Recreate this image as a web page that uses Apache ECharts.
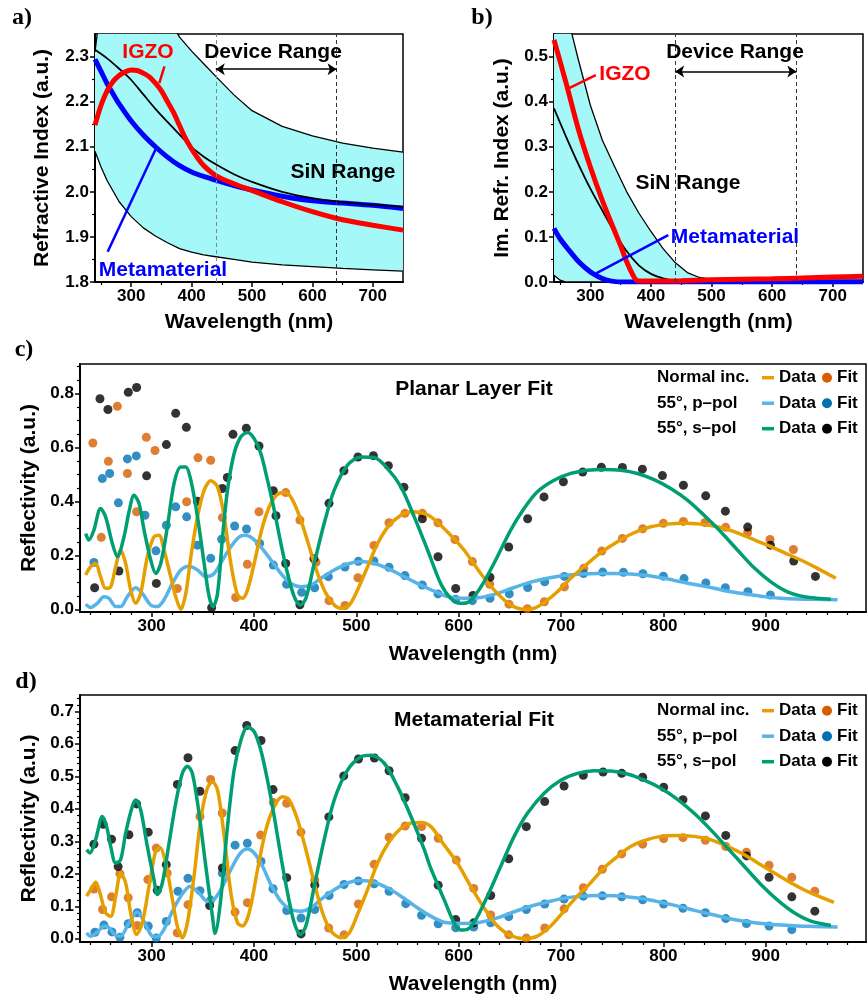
<!DOCTYPE html>
<html>
<head>
<meta charset="utf-8">
<script src="https://cdn.jsdelivr.net/npm/echarts@6/dist/echarts.min.js"></script>
<style>
html, body { margin: 0; padding: 0; background: #fff; }
#chart { width: 867px; height: 998px; }
</style>
</head>
<body>
<div id="chart"></div>
<script>
// ---------- panel a: real refractive index ----------
var aBandX    = [240, 250, 260, 280, 300, 320, 340, 360, 380, 400, 420, 440, 470, 500, 550, 600, 650, 700, 750];
var aBandLow  = [2.09, 2.055, 2.025, 1.978, 1.945, 1.92, 1.902, 1.887, 1.874, 1.866, 1.86, 1.856, 1.85, 1.844, 1.838, 1.834, 1.83, 1.827, 1.824];
var aBandHigh = [2.31, 2.42, 2.5, 2.55, 2.56, 2.52, 2.46, 2.39, 2.343, 2.312, 2.284, 2.256, 2.215, 2.18, 2.145, 2.124, 2.108, 2.097, 2.088];
var aSiNX  = [240, 260, 280, 300, 320, 340, 360, 380, 400, 420, 440, 470, 500, 550, 600, 650, 700, 750];
var aSiN   = [2.315, 2.296, 2.273, 2.248, 2.216, 2.184, 2.155, 2.127, 2.099, 2.078, 2.061, 2.039, 2.022, 2.0, 1.986, 1.977, 1.971, 1.967];
var aMetaX = [240, 250, 260, 270, 280, 300, 320, 340, 360, 380, 400, 420, 440, 470, 500, 550, 600, 650, 700, 750];
var aMeta  = [2.294, 2.267, 2.24, 2.217, 2.195, 2.157, 2.126, 2.1, 2.077, 2.058, 2.044, 2.034, 2.026, 2.014, 2.004, 1.99, 1.98, 1.975, 1.97, 1.963];
var aIgzoX = [240, 250, 260, 270, 280, 290, 300, 310, 320, 330, 340, 350, 360, 370, 380, 390, 400, 410, 420, 440, 470, 500, 550, 600, 650, 700, 750];
var aIgzo  = [2.148, 2.192, 2.224, 2.245, 2.258, 2.266, 2.27, 2.269, 2.263, 2.255, 2.241, 2.224, 2.2, 2.176, 2.147, 2.118, 2.095, 2.075, 2.058, 2.036, 2.018, 2.003, 1.978, 1.956, 1.938, 1.926, 1.915];

// ---------- panel b: imaginary refractive index ----------
var bBandX    = [240, 250, 260, 270, 280, 300, 320, 340, 360, 380, 400, 420, 440, 460, 480, 500, 550, 600, 650, 700, 750];
var bBandLow  = [0.015, 0.004, 0, 0, 0, 0, 0, 0, 0, 0, 0, 0, 0, 0, 0, 0, 0, 0, 0, 0, 0];
var bBandHigh = [0.76, 0.68, 0.61, 0.548, 0.494, 0.392, 0.314, 0.256, 0.2, 0.153, 0.112, 0.074, 0.043, 0.021, 0.01, 0.006, 0.004, 0.004, 0.004, 0.004, 0.004];
var bSiNX  = [240, 260, 280, 300, 320, 340, 360, 380, 400, 420, 440, 460, 480, 500];
var bSiN   = [0.385, 0.322, 0.262, 0.207, 0.158, 0.11, 0.068, 0.037, 0.018, 0.008, 0.003, 0.001, 0, 0];
var bMetaX = [240, 250, 265, 280, 293, 305, 320, 335, 354, 400, 500, 600, 750];
var bMeta  = [0.119, 0.096, 0.07, 0.046, 0.03, 0.018, 0.0075, 0.002, 0, 0, 0, 0, 0];
var bIgzoX = [240, 260, 280, 300, 320, 340, 350, 360, 370, 376, 385, 400, 450, 500, 550, 600, 650, 700, 750];
var bIgzo  = [0.537, 0.441, 0.34, 0.255, 0.18, 0.113, 0.08, 0.045, 0.016, 0.004, 0.002, 0.002, 0.003, 0.005, 0.006, 0.007, 0.009, 0.011, 0.013];

// ---------- panel c: planar layer fit ----------
var cNormalLine = [[235.5,0.127],[240.4,0.158],[245.3,0.170],[250.1,0.121],[255,0.078],[260,0.084],[264.9,0.158],[269.7,0.220],[274.6,0.170],[279.5,0.072],[284.4,0.022],[289.3,0.059],[295.8,0.195],[302.3,0.269],[307.2,0.275],[312.1,0.220],[318.6,0.121],[323.5,0.047],[328.5,0.0],[333.4,0.059],[338.3,0.195],[344.8,0.343],[351.3,0.442],[357.8,0.477],[364.4,0.454],[370.9,0.343],[377.4,0.170],[383.9,0.053],[388.8,0.041],[393.7,0.072],[400.2,0.170],[408.3,0.306],[416.5,0.393],[424.6,0.430],[431.1,0.433],[437.7,0.405],[445.8,0.331],[454,0.232],[462.1,0.133],[470.3,0.059],[478.4,0.016],[484.9,0.004],[493.1,0.016],[501.2,0.072],[511,0.158],[520.8,0.244],[532.2,0.312],[543.6,0.349],[553.4,0.362],[563.1,0.358],[572.9,0.343],[588.9,0.288],[605.2,0.220],[621.5,0.133],[637.8,0.059],[650.8,0.016],[663.9,0.0],[673.7,0.004],[683.4,0.025],[696.5,0.065],[709.5,0.115],[722.5,0.158],[738.8,0.210],[755.1,0.251],[771.4,0.284],[787.7,0.306],[804,0.316],[820.2,0.319],[836.5,0.316],[852.8,0.306],[869.1,0.288],[885.4,0.263],[901.7,0.238],[918,0.210],[934.3,0.183],[950.6,0.152],[968.5,0.115]];
var cPLine = [[235.5,0.019],[240.4,0.007],[246.9,0.022],[253.4,0.047],[258.3,0.041],[264.9,0.010],[269.7,0.010],[276.3,0.047],[284.4,0.080],[290.9,0.059],[299.1,0.016],[305.6,0.010],[312.1,0.035],[320.3,0.096],[328.5,0.146],[336.6,0.160],[344.8,0.146],[352.9,0.121],[361.1,0.133],[369.3,0.183],[377.4,0.232],[385.6,0.269],[392.1,0.275],[398.6,0.263],[406.7,0.232],[416.5,0.183],[426.3,0.133],[436,0.096],[445.8,0.084],[455.6,0.090],[465.4,0.115],[478.4,0.146],[491.4,0.168],[504.5,0.177],[517.5,0.170],[530.5,0.152],[543.6,0.127],[556.6,0.102],[569.6,0.078],[582.6,0.057],[588.9,0.047],[605.2,0.041],[621.5,0.044],[637.8,0.059],[654.1,0.081],[670.4,0.101],[686.7,0.115],[703,0.125],[719.3,0.131],[735.6,0.133],[751.9,0.133],[768.2,0.131],[784.5,0.125],[800.8,0.115],[817.1,0.102],[833.4,0.090],[849.7,0.078],[866,0.065],[882.2,0.056],[898.5,0.047],[914.8,0.041],[931.1,0.038],[947.4,0.037],[970.2,0.035]];
var cSLine = [[235.5,0.281],[238.7,0.257],[243.6,0.294],[250.1,0.374],[255,0.343],[261.6,0.244],[266.5,0.195],[273,0.269],[277.9,0.362],[282.8,0.423],[287.7,0.393],[292.6,0.294],[299.1,0.183],[304,0.133],[308.9,0.170],[315.4,0.306],[321.9,0.467],[328.5,0.528],[333.4,0.528],[338.3,0.479],[344.8,0.343],[351.3,0.170],[356.2,0.047],[360.1,0.010],[364.4,0.059],[369.3,0.269],[374.1,0.442],[380.6,0.578],[387.2,0.640],[393.7,0.656],[400.2,0.633],[406.7,0.578],[413.2,0.479],[419.8,0.368],[426.3,0.244],[432.8,0.133],[439.3,0.047],[445.2,0.016],[450.7,0.041],[458.9,0.170],[468.6,0.319],[478.4,0.442],[491.4,0.535],[504.5,0.565],[517.5,0.563],[530.5,0.522],[543.6,0.454],[556.6,0.343],[569.6,0.220],[582.4,0.096],[592.2,0.041],[601.3,0.022],[608.5,0.025],[615,0.047],[624.8,0.102],[637.8,0.195],[650.8,0.294],[663.9,0.374],[676.9,0.436],[693.2,0.479],[709.5,0.504],[725.8,0.516],[742.1,0.519],[758.4,0.516],[774.7,0.504],[791,0.481],[807.2,0.448],[823.5,0.405],[839.8,0.349],[856.1,0.288],[872.4,0.220],[888.7,0.154],[905,0.102],[921.3,0.065],[937.6,0.047],[953.9,0.040],[963.6,0.037]];
var cNormalFit = [[242.6,0.617],[250.8,0.267],[257.7,0.549],[266.5,0.753],[276.3,0.504],[285.3,0.362],[294.8,0.638],[303.3,0.589],[325.1,0.077],[334.2,0.399],[345.3,0.562],[357.7,0.553],[369.1,0.340],[382.1,0.044],[393.5,0.167],[404.9,0.362],[431,0.433],[444.9,0.331],[460.6,0.174],[473.3,0.032],[488.9,0.014],[501.6,0.117],[517.2,0.237],[531.9,0.321],[547.5,0.356],[564.5,0.356],[579.8,0.321],[596.4,0.259],[613.4,0.177],[630.3,0.093],[649.2,0.019],[667.1,0.002],[683.8,0.028],[703.3,0.083],[722.2,0.152],[739.8,0.216],[760,0.263],[779.8,0.299],[800,0.319],[819.6,0.326],[840.7,0.322],[860.9,0.304],[882.4,0.285],[904.2,0.259],[927.1,0.222]];
var cPFit = [[243.6,0.174],[251.8,0.485],[259,0.504],[267.5,0.395],[276.3,0.558],[285,0.569],[293.5,0.349],[304.2,0.217],[314.4,0.312],[323.5,0.380],[334.2,0.343],[344.7,0.238],[357.7,0.189],[368.4,0.260],[381.1,0.309],[392.7,0.298],[405.5,0.244],[418.9,0.164],[431.9,0.093],[446.6,0.063],[459.3,0.080],[472.7,0.121],[488.9,0.157],[502,0.178],[517.2,0.179],[531.9,0.156],[547.5,0.125],[564.5,0.090],[579.8,0.057],[597.1,0.037],[613.4,0.032],[630.6,0.041],[649.5,0.057],[667.4,0.081],[684,0.102],[703.3,0.122],[722,0.133],[740.7,0.138],[761,0.137],[780,0.132],[800,0.123],[820.2,0.114],[841.5,0.098],[860.6,0.080],[882.6,0.065],[904.6,0.053]];
var cSFit = [[244.3,0.080],[249.5,0.781],[257.3,0.741],[268,0.142],[277.2,0.805],[285.3,0.823],[295.1,0.495],[304.6,0.096],[314.4,0.611],[323.5,0.727],[333.9,0.675],[344.7,0.401],[358.6,0.006],[369.1,0.448],[374,0.489],[379.5,0.649],[392.5,0.672],[404.9,0.606],[418.9,0.440],[421.5,0.347],[431,0.170],[444.9,0.017],[458.6,0.188],[473.3,0.393],[487.9,0.514],[501.6,0.565],[516.7,0.570],[531.3,0.533],[546.5,0.453],[564.5,0.336],[579.8,0.195],[597.1,0.077],[614,0.051],[630.6,0.119],[648.9,0.231],[667.4,0.336],[683.4,0.417],[702.3,0.473],[721.2,0.509],[739.4,0.527],[760,0.526],[779.5,0.520],[799.1,0.496],[819.6,0.460],[841.4,0.421],[860.6,0.364],[882.4,0.305],[904.6,0.238],[927.4,0.179],[948.6,0.122]];

// ---------- panel d: metamaterial fit ----------
var dNormalLine = [[236.5,0.131],[240.4,0.151],[245.3,0.174],[249.5,0.141],[255,0.080],[260,0.069],[264.9,0.131],[269.7,0.202],[274.6,0.172],[279.5,0.080],[285.3,0.013],[290.9,0.049],[297.4,0.161],[303.9,0.269],[308.2,0.281],[313.7,0.233],[320.3,0.121],[325.1,0.039],[330,0.003],[334.9,0.049],[341.4,0.192],[347.9,0.366],[354.4,0.463],[359.4,0.483],[364.4,0.458],[370.9,0.315],[377.4,0.141],[383.9,0.049],[388.8,0.039],[395.3,0.080],[403.5,0.213],[411.6,0.335],[419.8,0.407],[427.9,0.437],[434.4,0.427],[442.6,0.366],[450.7,0.274],[458.9,0.172],[467,0.080],[475.2,0.024],[484.9,0.003],[493.1,0.018],[501.2,0.075],[511,0.151],[520.8,0.233],[532.2,0.299],[543.6,0.340],[553.4,0.356],[563.1,0.358],[572.9,0.345],[585.7,0.289],[598.7,0.233],[611.8,0.161],[624.8,0.095],[637.8,0.039],[650.8,0.010],[663.9,0.0],[676.9,0.008],[689.9,0.039],[702.9,0.085],[715.9,0.131],[728.9,0.172],[742,0.218],[755,0.253],[768,0.284],[781.1,0.302],[797.4,0.315],[813.6,0.318],[829.9,0.315],[846.2,0.305],[862.5,0.284],[878.8,0.259],[895.1,0.228],[911.4,0.197],[927.6,0.167],[943.9,0.141],[966.7,0.112]];
var dPLine = [[236.5,0.018],[240.4,0.008],[246.9,0.020],[253.4,0.039],[258.3,0.034],[264.9,0.010],[269.7,0.008],[277.8,0.049],[285.9,0.082],[292.4,0.054],[300.5,0.008],[305.6,0.006],[312.1,0.029],[320.3,0.085],[328.5,0.131],[337.3,0.161],[346.3,0.141],[354.4,0.115],[361.1,0.121],[369.3,0.161],[377.4,0.213],[385.6,0.259],[393,0.276],[400.2,0.264],[408.3,0.223],[416.5,0.167],[426.3,0.115],[436,0.090],[445.8,0.085],[455.6,0.095],[465.4,0.121],[478.4,0.151],[491.4,0.172],[504.5,0.179],[517.5,0.174],[530.5,0.156],[543.6,0.131],[556.6,0.102],[569.6,0.075],[582.6,0.054],[588.9,0.049],[605.2,0.047],[621.5,0.051],[637.8,0.064],[654.1,0.083],[670.4,0.100],[686.7,0.113],[703,0.125],[719.3,0.131],[735.6,0.133],[751.9,0.132],[768.2,0.128],[784.5,0.121],[800.8,0.110],[817.1,0.098],[833.4,0.085],[849.7,0.073],[866,0.061],[882.2,0.052],[898.5,0.046],[914.8,0.042],[931.1,0.039],[947.4,0.038],[970.2,0.036]];
var dSLine = [[236.5,0.274],[239.7,0.264],[245.3,0.305],[251.8,0.376],[256,0.345],[260,0.284],[264.9,0.233],[269.7,0.243],[274.6,0.325],[281.1,0.407],[284.4,0.427],[289.3,0.396],[295.8,0.284],[302.3,0.182],[305.6,0.136],[310.5,0.172],[317,0.294],[323.5,0.417],[330,0.509],[334.9,0.531],[339.8,0.509],[346.3,0.386],[352.9,0.223],[359.4,0.069],[362,0.016],[367.5,0.121],[374.1,0.345],[380.6,0.519],[387.2,0.611],[393.7,0.652],[400.2,0.637],[406.7,0.580],[413.2,0.488],[419.8,0.376],[426.3,0.253],[432.8,0.141],[439.3,0.049],[445.2,0.013],[450.7,0.039],[458.9,0.161],[468.6,0.305],[478.4,0.427],[491.4,0.519],[504.5,0.560],[514.3,0.565],[527.3,0.540],[540.3,0.468],[553.4,0.376],[566.4,0.274],[572.6,0.218],[585.7,0.121],[595.5,0.049],[602,0.027],[608.5,0.029],[616.7,0.059],[628.1,0.131],[641.1,0.223],[654.2,0.315],[667.2,0.386],[683.5,0.448],[699.8,0.488],[716.1,0.509],[732.4,0.517],[748.7,0.516],[765,0.507],[781.3,0.488],[797.5,0.463],[813.8,0.429],[830.1,0.386],[846.4,0.335],[862.7,0.279],[879,0.223],[895.3,0.167],[911.6,0.119],[927.9,0.080],[944.2,0.054],[963.7,0.041]];
var dNormalFit = [[243.6,0.153],[252.1,0.090],[260.8,0.129],[269,0.200],[277.1,0.126],[285.9,0.041],[296.3,0.182],[304.5,0.279],[315.2,0.202],[325,0.018],[335.5,0.105],[347.2,0.376],[357.6,0.490],[369,0.387],[381.5,0.082],[393.5,0.111],[406.5,0.319],[418.9,0.419],[431.9,0.417],[445.9,0.328],[459.4,0.181],[473,0.033],[488,0.012],[502,0.107],[517.4,0.229],[532,0.312],[547.7,0.347],[563.7,0.345],[580,0.309],[597.7,0.242],[614.7,0.155],[631.3,0.073],[648.9,0.012],[666.1,0.002],[684.1,0.033],[703,0.092],[721.8,0.157],[740.4,0.214],[759.3,0.261],[779.8,0.291],[800.3,0.308],[819.2,0.311],[841.1,0.303],[861,0.284],[881.2,0.266],[903.3,0.226],[925.5,0.189],[948,0.146]];
var dPFit = [[244.6,0.020],[253.4,0.042],[261.2,0.021],[269,0.005],[277.1,0.046],[285.9,0.080],[296.7,0.039],[304.5,0.002],[314.3,0.053],[325.7,0.146],[335.5,0.186],[347.2,0.148],[357.6,0.119],[369,0.202],[381.5,0.288],[393.5,0.294],[406.9,0.238],[418.6,0.154],[432,0.087],[446,0.064],[459.4,0.090],[473.4,0.133],[488,0.167],[502,0.178],[517.4,0.169],[532,0.146],[548.3,0.108],[563.7,0.072],[580,0.046],[597.1,0.034],[614.7,0.036],[631.3,0.049],[648.9,0.068],[666.1,0.090],[684.1,0.107],[703,0.122],[721.8,0.131],[740.4,0.132],[759.3,0.129],[779.8,0.120],[800.3,0.107],[819.2,0.094],[841.1,0.080],[861,0.062],[881.2,0.047],[903.3,0.039],[925.5,0.028]];
var dSFit = [[243.6,0.291],[252.7,0.352],[260.8,0.306],[267.3,0.222],[277.8,0.320],[285.3,0.415],[296.7,0.328],[305.5,0.149],[314.3,0.228],[325.1,0.475],[335.5,0.557],[347.2,0.454],[356.7,0.102],[369.1,0.218],[381.5,0.579],[392.9,0.656],[406.9,0.610],[418.6,0.459],[432,0.188],[446,0.015],[459.4,0.165],[473.1,0.375],[487.7,0.501],[502.1,0.553],[517.7,0.556],[532,0.517],[547.7,0.434],[563.7,0.309],[580,0.165],[597.1,0.059],[614.7,0.049],[631.3,0.133],[648.9,0.246],[666.1,0.345],[684.1,0.422],[703,0.470],[721.8,0.503],[741.1,0.513],[759.3,0.509],[779.8,0.497],[800.3,0.466],[819.2,0.428],[841.1,0.378],[861,0.318],[881.2,0.255],[903.3,0.189],[925.5,0.129],[948,0.085]];

// ---------- tick labels ----------
var abXTicks = [300, 400, 500, 600, 700];
var aYTicks = [1.8, 1.9, 2.0, 2.1, 2.2, 2.3];
var bYTicks = [0, 0.1, 0.2, 0.3, 0.4, 0.5];
var cdXTicks = [300, 400, 500, 600, 700, 800, 900];
var cYTicks = [0, 0.2, 0.4, 0.6, 0.8];
var dYTicks = [0, 0.1, 0.2, 0.3, 0.4, 0.5, 0.6, 0.7];
var legendLabels = ['Normal inc.', '55°, p\u2013pol', '55°, s\u2013pol'];

var FONT = '"Liberation Sans", Arial, sans-serif';
var LINE_COLORS = ['#E69F00', '#56B4E9', '#009E73'];
var DOT_COLORS = ['#D55E00', '#0072B2', '#000000'];
var CYAN = '#a5f8f8';

function steps(from, to, step, skip) {
    var out = [];
    for (var i = 0; from + i * step <= to + 1e-9; i++) {
        var v = +(from + i * step).toFixed(4);
        if (skip.indexOf(v) < 0) out.push(v);
    }
    return out;
}

function mainAxis(dim, gi, min, max, ticks, name, gap, dec) {
    return {
        type: 'value', gridIndex: gi, min: min, max: max,
        position: dim === 'x' ? 'bottom' : 'left',
        name: name, nameLocation: 'middle', nameGap: gap,
        nameTextStyle: { fontFamily: FONT, fontWeight: 'bold', fontSize: 21, color: '#000' },
        axisLine: { onZero: false, lineStyle: { color: '#000', width: 2 } },
        axisTick: { customValues: ticks, length: 5, lineStyle: { color: '#000', width: 1.5 } },
        axisLabel: {
            customValues: ticks, fontFamily: FONT, fontWeight: 'bold', fontSize: 17,
            color: '#000', margin: 6,
            formatter: function (v) { return dec ? (+v).toFixed(dec) : String(Math.round(v)); }
        },
        splitLine: { show: false }
    };
}
function minorAxis(dim, gi, min, max, ticks) {
    return {
        type: 'value', gridIndex: gi, min: min, max: max,
        position: dim === 'x' ? 'bottom' : 'left',
        axisLine: { show: false, onZero: false },
        axisTick: { customValues: ticks, length: 3, lineStyle: { color: '#000', width: 1.2 } },
        axisLabel: { show: false },
        splitLine: { show: false }
    };
}

function zip(xs, ys) { return xs.map(function (x, i) { return [x, ys[i]]; }); }

function plainLine(ai, data, color, width, smooth) {
    return {
        type: 'line', xAxisIndex: ai, yAxisIndex: ai, data: data,
        showSymbol: false, smooth: smooth === undefined ? 0.3 : smooth, silent: true,
        lineStyle: { color: color, width: width }
    };
}
// filled range between two boundary curves, clipped to the grid
function band(ai, xs, low, high) {
    return {
        type: 'custom', xAxisIndex: ai, yAxisIndex: ai, silent: true, z: 1,
        data: xs.map(function (x, i) { return [x, low[i], high[i]]; }),
        encode: { x: 0, y: [1, 2] },
        renderItem: function (params, api) {
            if (params.dataIndex !== 0) return null;
            var pts = [], i;
            for (i = 0; i < xs.length; i++) pts.push(api.coord([xs[i], high[i]]));
            for (i = xs.length - 1; i >= 0; i--) pts.push(api.coord([xs[i], low[i]]));
            var cs = params.coordSys;
            return {
                type: 'polygon', shape: { points: pts },
                style: { fill: CYAN, stroke: null },
                clipPath: { type: 'rect', shape: { x: cs.x, y: cs.y, width: cs.width, height: cs.height } }
            };
        }
    };
}
function guides(yArrow, redSeg, blueSeg, leftColor) {
    return {
        silent: true, symbol: ['none', 'none'], symbolSize: 9,
        label: { show: false },
        data: [
            { xAxis: 440, lineStyle: { type: [4, 3], color: leftColor, width: 1 } },
            { xAxis: 640, lineStyle: { type: [4, 3], color: '#333', width: 1 } },
            [{ coord: [440, yArrow], symbol: 'arrow' }, { coord: [640, yArrow], symbol: 'arrow', lineStyle: { color: '#000', width: 1.5, type: 'solid' } }],
            [{ coord: redSeg[0] }, { coord: redSeg[1], lineStyle: { color: '#ff0000', width: 2.5, type: 'solid' } }],
            [{ coord: blueSeg[0] }, { coord: blueSeg[1], lineStyle: { color: '#0000ff', width: 2.5, type: 'solid' } }]
        ]
    };
}
function fitSeries(ai, lines, dots) {
    var out = [];
    [1, 0, 2].forEach(function (k) {
        out.push({
            type: 'line', xAxisIndex: ai, yAxisIndex: ai, data: lines[k],
            showSymbol: false, smooth: 0.3, silent: true,
            lineStyle: { color: LINE_COLORS[k], width: 3.5 }
        });
    });
    [0, 1, 2].forEach(function (k) {
        out.push({
            type: 'scatter', xAxisIndex: ai, yAxisIndex: ai, data: dots[k],
            symbolSize: 9, silent: true, itemStyle: { color: DOT_COLORS[k] }
        });
    });
    return out;
}

function txt(x, y, s, color, size, family) {
    return {
        type: 'text', x: x, y: y, silent: true, z: 100,
        style: {
            text: s, fill: color || '#000',
            font: 'bold ' + (size || 21) + 'px ' + (family || FONT),
            align: 'center', verticalAlign: 'middle',
            textAlign: 'center', textVerticalAlign: 'middle'
        }
    };
}
function legendBlock(y0, step) {
    var els = [];
    legendLabels.forEach(function (lab, k) {
        var y = y0 + k * step;
        els.push({ type: 'text', x: 657, y: y, silent: true, z: 100,
            style: { text: lab, fill: '#000', font: 'bold 17px ' + FONT,
                align: 'left', verticalAlign: 'middle', textAlign: 'left', textVerticalAlign: 'middle' } });
        els.push({ type: 'line', silent: true, z: 100, shape: { x1: 762, y1: y, x2: 774, y2: y },
            style: { stroke: LINE_COLORS[k], lineWidth: 3.5 } });
        els.push({ type: 'text', x: 779, y: y, silent: true, z: 100,
            style: { text: 'Data', fill: '#000', font: 'bold 17px ' + FONT,
                align: 'left', verticalAlign: 'middle', textAlign: 'left', textVerticalAlign: 'middle' } });
        els.push({ type: 'circle', silent: true, z: 100, shape: { cx: 827, cy: y, r: 5 },
            style: { fill: DOT_COLORS[k] } });
        els.push({ type: 'text', x: 837, y: y, silent: true, z: 100,
            style: { text: 'Fit', fill: '#000', font: 'bold 17px ' + FONT,
                align: 'left', verticalAlign: 'middle', textAlign: 'left', textVerticalAlign: 'middle' } });
    });
    return els;
}

var gridBox = { show: true, borderColor: '#000', borderWidth: 1.5, backgroundColor: 'transparent' };
var grids = [
    Object.assign({ left: 95, top: 34, width: 308, height: 248 }, gridBox),
    Object.assign({ left: 554, top: 34, width: 309, height: 248 }, gridBox),
    Object.assign({ left: 80, top: 364, width: 786, height: 248 }, gridBox),
    Object.assign({ left: 80, top: 695, width: 786, height: 247 }, gridBox)
];

var abXMinor = [250, 350, 450, 550, 650];
var cdXMinor = steps(240, 980, 20, cdXTicks);

var xAxes = [
    mainAxis('x', 0, 240, 750, abXTicks, 'Wavelength (nm)', 30, 0),
    minorAxis('x', 0, 240, 750, abXMinor),
    mainAxis('x', 1, 240, 750, abXTicks, 'Wavelength (nm)', 30, 0),
    minorAxis('x', 1, 240, 750, abXMinor),
    mainAxis('x', 2, 230, 998, cdXTicks, 'Wavelength (nm)', 32, 0),
    minorAxis('x', 2, 230, 998, cdXMinor),
    mainAxis('x', 3, 230, 998, cdXTicks, 'Wavelength (nm)', 32, 0),
    minorAxis('x', 3, 230, 998, cdXMinor)
];
// grid g draws its series on axis 2g; axis 2g+1 only carries minor ticks
var yAxes = [
    mainAxis('y', 0, 1.8, 2.35, aYTicks, 'Refractive Index (a.u.)', 42, 1),
    minorAxis('y', 0, 1.8, 2.35, [1.85, 1.95, 2.05, 2.15, 2.25]),
    mainAxis('y', 1, 0, 0.55, bYTicks, 'Im. Refr. Index (a.u.)', 41, 1),
    minorAxis('y', 1, 0, 0.55, [0.05, 0.15, 0.25, 0.35, 0.45]),
    mainAxis('y', 2, -0.01, 0.91, cYTicks, 'Reflectivity (a.u.)', 36, 1),
    minorAxis('y', 2, -0.01, 0.91, steps(0.05, 0.9, 0.05, [0.2, 0.4, 0.6, 0.8])),
    mainAxis('y', 3, -0.01, 0.75, dYTicks, 'Reflectivity (a.u.)', 36, 1),
    minorAxis('y', 3, -0.01, 0.75, steps(0.02, 0.74, 0.02, [0.1, 0.2, 0.3, 0.4, 0.5, 0.6, 0.7]))
];

var series = [];
// panel a
series.push(band(0, aBandX, aBandLow, aBandHigh));
series.push(plainLine(0, zip(aBandX, aBandLow), '#000', 1.3, false));
series.push(plainLine(0, zip(aBandX, aBandHigh), '#000', 1.3, false));
series.push(plainLine(0, zip(aMetaX, aMeta), '#0000ff', 5));
var aMid = plainLine(0, zip(aSiNX, aSiN), '#000', 1.8);
aMid.markLine = guides(2.272, [[355, 2.278], [346.5, 2.241]], [[341, 2.096], [261, 1.867]], '#6f8f8f');
series.push(aMid);
series.push(plainLine(0, zip(aIgzoX, aIgzo), '#ff0000', 5));
// panel b
series.push(band(2, bBandX, bBandLow, bBandHigh));
series.push(plainLine(2, zip(bBandX, bBandLow), '#000', 1.3, false));
series.push(plainLine(2, zip(bBandX, bBandHigh), '#000', 1.3, false));
var bMid = plainLine(2, zip(bSiNX, bSiN), '#000', 1.8);
bMid.markLine = guides(0.467, [[265, 0.43], [309, 0.459]], [[309.5, 0.019], [428.5, 0.104]], '#333');
series.push(bMid);
series.push(plainLine(2, zip(bMetaX, bMeta), '#0000ff', 5));
series.push(plainLine(2, zip(bIgzoX, bIgzo), '#ff0000', 5));
// panels c and d
series = series.concat(fitSeries(4, [cNormalLine, cPLine, cSLine], [cNormalFit, cPFit, cSFit]));
series = series.concat(fitSeries(6, [dNormalLine, dPLine, dSLine], [dNormalFit, dPFit, dSFit]));

var serif = '"Liberation Serif", "Times New Roman", serif';
var graphics = [
    txt(22, 18, 'a)', '#000', 24, serif),
    txt(482, 18, 'b)', '#000', 24, serif),
    txt(24, 350, 'c)', '#000', 24, serif),
    txt(26, 682, 'd)', '#000', 24, serif),
    txt(148, 52, 'IGZO', '#ff0000'),
    txt(273, 52, 'Device Range'),
    txt(343, 172, 'SiN Range'),
    txt(163, 270, 'Metamaterial', '#0000ff'),
    txt(625, 74, 'IGZO', '#ff0000'),
    txt(735, 52, 'Device Range'),
    txt(688, 183, 'SiN Range'),
    txt(735, 237, 'Metamaterial', '#0000ff'),
    txt(474, 389, 'Planar Layer Fit'),
    txt(474, 720, 'Metamaterial Fit')
].concat(legendBlock(377.7, 25.5), legendBlock(710.7, 25.5));

var myChart = echarts.init(document.getElementById('chart'));
myChart.setOption({
    animation: false,
    backgroundColor: '#fff',
    grid: grids,
    xAxis: xAxes,
    yAxis: yAxes,
    series: series,
    graphic: graphics
});
</script>
</body>
</html>
